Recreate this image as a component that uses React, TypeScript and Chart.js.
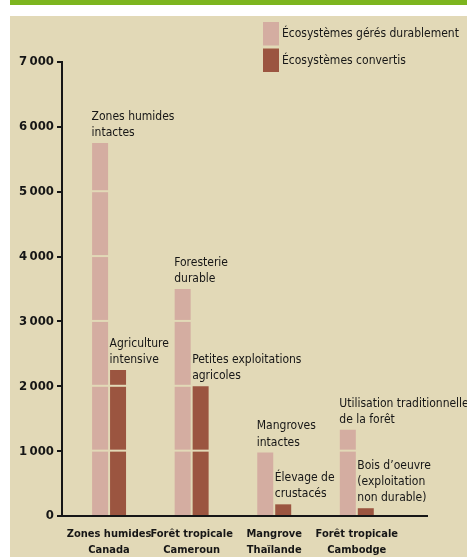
import React, { useEffect, useRef } from 'react';
import { Chart, registerables } from 'chart.js';

Chart.register(...registerables);

// ---- data ----
const categoryLabels: string[][] = [
  ['Zones humides', 'Canada'],
  ['Forêt tropicale', 'Cameroun'],
  ['Mangrove', 'Thaïlande'],
  ['Forêt tropicale', 'Cambodge'],
];
const categoryIndex = [0, 1, 2, 3];
const seriesLabels = ['Écosystèmes gérés durablement', 'Écosystèmes convertis'];
const managedValues = [5750, 3500, 980, 1330];
const convertedValues = [2250, 2000, 180, 120];
const managedNotes: string[][] = [
  ['Zones humides', 'intactes'],
  ['Foresterie', 'durable'],
  ['Mangroves', 'intactes'],
  ['Utilisation traditionnelle', 'de la forêt'],
];
const convertedNotes: string[][] = [
  ['Agriculture', 'intensive'],
  ['Petites exploitations', 'agricoles'],
  ['Élevage de', 'crustacés'],
  ['Bois d’oeuvre', '(exploitation', 'non durable)'],
];
const yMax = 7000;
const yStep = 1000;

// ---- styles ----
const FONT = '"DejaVu Sans Condensed", "DejaVu Sans", sans-serif';
const BG = '#e2d9b7';
const GREEN = '#7cb51f';
const PINK = '#d4ada1';
const BROWN = '#9b5540';
const INK = '#161616';

const fmt = (v: number) =>
  v >= 1000 ? `${Math.floor(v / 1000)}\u2009${String(v % 1000).padStart(3, '0')}` : String(v);

const backgroundPlugin = {
  id: 'panelBackground',
  beforeDraw(chart: any) {
    const { ctx, width, height } = chart;
    ctx.save();
    ctx.fillStyle = '#ffffff';
    ctx.fillRect(0, 0, width, height);
    ctx.fillStyle = GREEN;
    ctx.fillRect(10, 0, width - 10, 5);
    ctx.fillStyle = BG;
    ctx.fillRect(10, 16, width - 10, height - 16);
    ctx.restore();
  },
};

const notesPlugin = {
  id: 'barNotes',
  afterDatasetsDraw(chart: any) {
    const { ctx } = chart;
    const yScale = chart.scales.y;
    const notes = [managedNotes, convertedNotes];
    ctx.save();
    chart.data.datasets.forEach((ds: any, di: number) => {
      const meta = chart.getDatasetMeta(di);
      meta.data.forEach((bar: any, i: number) => {
        const { x, y, width } = bar.getProps(['x', 'y', 'width'], true);
        const value = ds.data[i].y;
        ctx.fillStyle = BG;
        for (let v = yStep; v < value; v += yStep) {
          const py = yScale.getPixelForValue(v);
          ctx.fillRect(x - width / 2 - 1, py - 1.5, width + 2, 2);
        }
        const lines = notes[di][i];
        ctx.fillStyle = INK;
        ctx.font = `12px ${FONT}`;
        ctx.textAlign = 'left';
        ctx.textBaseline = 'middle';
        const n = lines.length;
        lines.forEach((l: string, k: number) => {
          ctx.fillText(l, x - width / 2 - 0.5, y - 10 - (n - 1 - k) * 16.3);
        });
      });
    });
    ctx.restore();
  },
};

const legendPlugin = {
  id: 'boxLegend',
  afterDraw(chart: any) {
    const { ctx } = chart;
    ctx.save();
    ctx.font = `12px ${FONT}`;
    ctx.textAlign = 'left';
    ctx.textBaseline = 'middle';
    chart.data.datasets.forEach((ds: any, i: number) => {
      const top = 22 + i * 26.5;
      ctx.fillStyle = ds.backgroundColor;
      ctx.fillRect(263, top, 16, 23.5);
      ctx.fillStyle = INK;
      ctx.fillText(ds.label, 282, top + 12);
    });
    ctx.restore();
  },
};

export default function App() {
  const ref = useRef<HTMLCanvasElement>(null);
  useEffect(() => {
    const chart = new Chart(ref.current as HTMLCanvasElement, {
      type: 'bar',
      data: {
        datasets: [
          {
            label: seriesLabels[0],
            data: categoryIndex.map((x, i) => ({ x, y: managedValues[i] })),
            backgroundColor: PINK,
            categoryPercentage: 0.435,
            barPercentage: 0.89,
          },
          {
            label: seriesLabels[1],
            data: categoryIndex.map((x, i) => ({ x, y: convertedValues[i] })),
            backgroundColor: BROWN,
            categoryPercentage: 0.435,
            barPercentage: 0.89,
          },
        ],
      },
      options: {
        responsive: false,
        animation: false,
        devicePixelRatio: 1,
        layout: { padding: { left: 10, right: 40, top: 62, bottom: 0 } },
        plugins: { legend: { display: false }, tooltip: { enabled: false } },
        scales: {
          x: {
            type: 'linear',
            min: -0.57,
            max: 3.85,
            bounds: 'data',
            offset: false,
            grid: { display: false, drawTicks: false, offset: false },
            border: { display: true, color: INK, width: 2, z: 1 },
            afterBuildTicks: (s: any) => {
              s.ticks = categoryIndex.map((v) => ({ value: v }));
            },
            afterFit: (s: any) => {
              s.height = 41;
            },
            ticks: {
              autoSkip: false,
              maxRotation: 0,
              padding: 10,
              color: INK,
              font: { family: FONT, size: 11, weight: 'bold', lineHeight: 1.49 },
              callback: (v: any) => categoryLabels[Math.round(Number(v))] ?? '',
            },
          },
          y: {
            min: 0,
            max: yMax,
            grid: {
              display: true,
              drawOnChartArea: false,
              drawTicks: true,
              tickLength: 5,
              color: INK,
              lineWidth: 2,
            },
            border: { display: true, color: INK, width: 2 },
            afterFit: (s: any) => {
              s.width = 52;
            },
            ticks: {
              stepSize: yStep,
              padding: 3,
              color: INK,
              font: { family: FONT, size: 13, weight: 'bold' },
              callback: (v: any) => fmt(Number(v)),
            },
          },
        },
      } as any,
      plugins: [backgroundPlugin, notesPlugin, legendPlugin],
    });
    return () => chart.destroy();
  }, []);
  return (
    <canvas
      ref={ref}
      width={467}
      height={557}
      style={{ position: 'absolute', left: 0, top: 0, display: 'block' }}
    />
  );
}
